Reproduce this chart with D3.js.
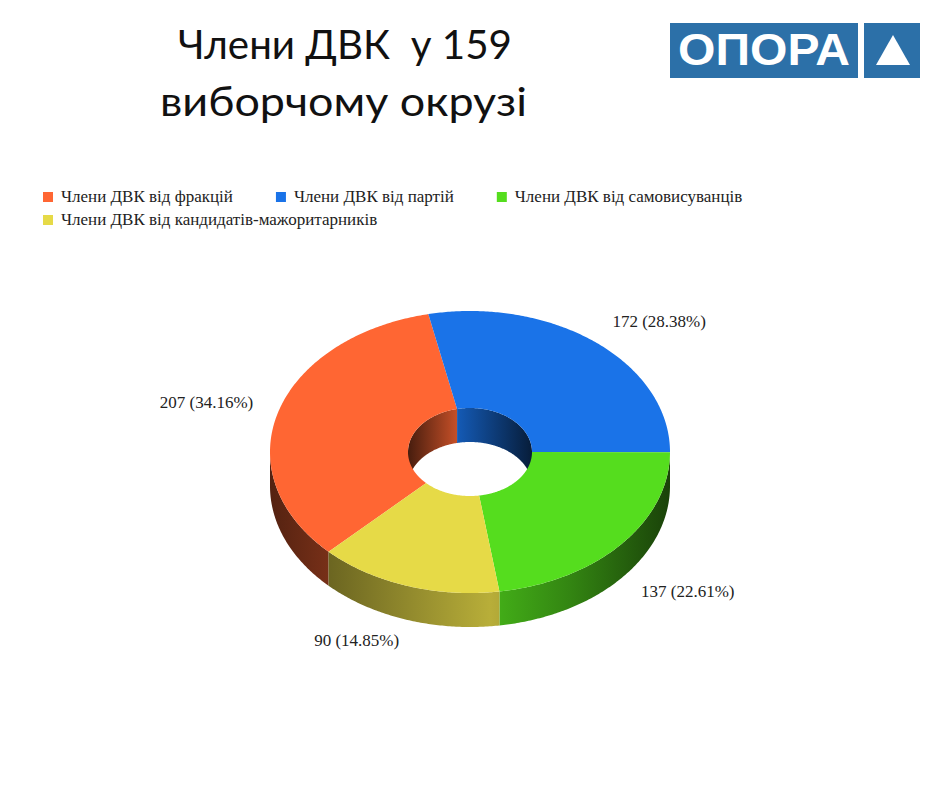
<!DOCTYPE html>
<html>
<head>
<meta charset="utf-8">
<script src="https://cdnjs.cloudflare.com/ajax/libs/d3/7.8.5/d3.min.js"></script>
<style>
html,body{margin:0;padding:0;background:#fff;}
svg{display:block;}
</style>
</head>
<body>
<svg id="chart" width="940" height="788"></svg>
<script>
// ---- data ----
const titleLines = ["Члени ДВК  у 159", "виборчому окрузі"];
const categories = [
  "Члени ДВК від фракцій",
  "Члени ДВК від партій",
  "Члени ДВК від самовисуванців",
  "Члени ДВК від кандидатів-мажоритарників"
];
const values = [207, 172, 137, 90];
const percentLabels = ["34.16%", "28.38%", "22.61%", "14.85%"];
const colors = ["#ff6633", "#1a73e8", "#55dd1e", "#e6da47"];
const logoText = "ОПОРА";

// ---- layout ----
const svg = d3.select("#chart");
const cx = 470, cy = 452, rx = 200, ry = 141, irx = 62, iry = 44, depth = 34;

// title
const title = svg.append("g").attr("font-family", "Lato, 'Open Sans', sans-serif")
  .attr("font-size", 40).attr("fill", "#111");
title.append("text").attr("x", 178).attr("y", 59).attr("textLength", 334)
  .attr("lengthAdjust", "spacingAndGlyphs").attr("xml:space", "preserve").text(titleLines[0]);
title.append("text").attr("x", 160).attr("y", 116).attr("textLength", 367)
  .attr("lengthAdjust", "spacingAndGlyphs").text(titleLines[1]);

// logo
const logo = svg.append("g");
logo.append("rect").attr("x", 670).attr("y", 23).attr("width", 188).attr("height", 55).attr("fill", "#2c70a8");
logo.append("rect").attr("x", 864).attr("y", 23).attr("width", 56).attr("height", 55).attr("fill", "#2c70a8");
logo.append("text").attr("x", 678).attr("y", 65).attr("font-family", "'Liberation Sans', Arial, sans-serif")
  .attr("font-weight", "bold").attr("font-size", 44).attr("fill", "#fff")
  .attr("textLength", 172).attr("lengthAdjust", "spacingAndGlyphs").text(logoText);
logo.append("path").attr("d", "M893,35 L910,65 L876,65 Z").attr("fill", "#fff");

// legend
const legend = svg.append("g").attr("font-family", "'Liberation Serif', 'Times New Roman', serif")
  .attr("font-size", 17).attr("fill", "#222");
let lx = 43, ly = 202;
const legendMaxX = 800;
categories.forEach((c, i) => {
  const g = legend.append("g");
  g.append("rect").attr("width", 10).attr("height", 10).attr("y", -10).attr("fill", colors[i]);
  const t = g.append("text").attr("x", 18).attr("y", 0).text(c);
  const w = 18 + t.node().getComputedTextLength();
  if (lx + w > legendMaxX) { lx = 43; ly += 23; }
  g.attr("transform", `translate(${lx},${ly})`);
  lx += w + 43;
});

// pie
const pie = d3.pie().sort(null).value(d => d).startAngle(-3 * Math.PI / 4).endAngle(5 * Math.PI / 4);
const arcs = pie(values);

function pt(a, erx, ery, ccy) { return [cx + erx * Math.sin(a), ccy - ery * Math.cos(a)]; }
function arcPts(a0, a1, erx, ery, ccy) {
  const n = Math.max(2, Math.ceil(Math.abs(a1 - a0) / 0.01));
  const out = [];
  for (let k = 0; k <= n; k++) out.push(pt(a0 + (a1 - a0) * k / n, erx, ery, ccy));
  return out;
}
const line = d3.line();

const defs = svg.append("defs");
function gradient(id, color, x1, x2, stops) {
  const g = defs.append("linearGradient").attr("id", id).attr("gradientUnits", "userSpaceOnUse")
    .attr("x1", x1).attr("x2", x2).attr("y1", 0).attr("y2", 0);
  stops.forEach(([o, f]) => g.append("stop").attr("offset", o)
    .attr("stop-color", d3.interpolateRgb("#000", color)(f)));
}
colors.forEach((c, i) => {
  gradient("side" + i, c, cx - rx, cx + rx, [[0, 0.33], [0.15, 0.47], [0.55, 0.8], [0.75, 0.6], [1, 0.3]]);
  gradient("inner" + i, c, cx - irx, cx + irx, [[0, 0.28], [0.4, 0.78], [1, 0.25]]);
});

function clip(a0, a1, lo, hi) {
  const res = [];
  [-2 * Math.PI, 0, 2 * Math.PI].forEach(s => {
    const b0 = Math.max(a0, lo + s), b1 = Math.min(a1, hi + s);
    if (b1 > b0) res.push([b0, b1]);
  });
  return res;
}

const gInner = svg.append("g"), gSide = svg.append("g"), gTop = svg.append("g");

arcs.forEach((d, i) => {
  clip(d.startAngle, d.endAngle, -Math.PI / 2, Math.PI / 2).forEach(([b0, b1]) => {
    const pts = arcPts(b0, b1, irx, iry, cy).concat(arcPts(b1, b0, irx, iry, cy + depth));
    gInner.append("path").attr("d", line(pts) + "Z").attr("fill", `url(#inner${i})`);
  });
  clip(d.startAngle, d.endAngle, Math.PI / 2, 3 * Math.PI / 2).forEach(([b0, b1]) => {
    const pts = arcPts(b0, b1, rx, ry, cy).concat(arcPts(b1, b0, rx, ry, cy + depth));
    gSide.append("path").attr("d", line(pts) + "Z").attr("fill", `url(#side${i})`);
  });
  const pts = arcPts(d.startAngle, d.endAngle, rx, ry, cy).concat(arcPts(d.endAngle, d.startAngle, irx, iry, cy));
  gTop.append("path").attr("d", line(pts) + "Z").attr("fill", colors[i]);
});

// labels
const gLab = svg.append("g").attr("font-family", "'Liberation Serif', Georgia, serif")
  .attr("font-size", 17).attr("fill", "#222");
arcs.forEach((d, i) => {
  const m = (d.startAngle + d.endAngle) / 2;
  const x = cx + rx * 1.13 * Math.sin(m);
  let y = cy - 3 - ry * 1.17 * Math.cos(m);
  if (Math.cos(m) < 0) y += depth;
  gLab.append("text").attr("x", x).attr("y", y).attr("dy", "0.35em")
    .attr("text-anchor", Math.sin(m) >= 0 ? "start" : "end")
    .text(`${values[i]} (${percentLabels[i]})`);
});
</script>
</body>
</html>
